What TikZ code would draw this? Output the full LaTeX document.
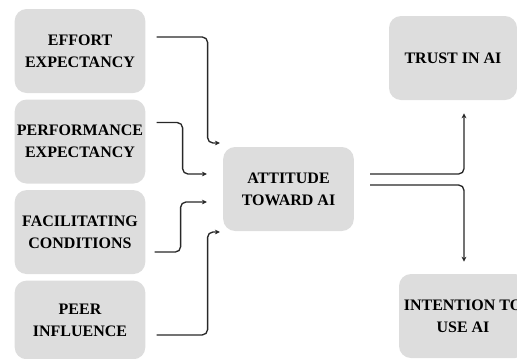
\documentclass[tikz,border=0pt]{standalone}
\usepackage{fontspec}
\setmainfont{Liberation Serif}
\definecolor{BoxGray}{RGB}{221,221,221}
\definecolor{LineDark}{RGB}{40,40,40}
\usetikzlibrary{positioning,arrows.meta,calc}

\begin{document}
\begin{tikzpicture}[x=0.75pt, y=-0.75pt,
      every node/.style={font=\fontsize{12}{16.5}\selectfont\bfseries, align=center},
      box/.style={fill=BoxGray, rounded corners=9pt, minimum width=98pt, minimum height=63pt, inner xsep=1pt, inner ysep=2pt},
      factor/.style={box},
      outcome/.style={box, minimum width=96pt},
      arr/.style={-{Stealth[length=3.8pt, width=3.6pt]}, draw=LineDark, line width=1pt, rounded corners=4pt}
  ]
    \useasboundingbox (0,0) rectangle (517,358);
    \clip (0,0) rectangle (517,358);
    \node[factor] at (80,51) (eff) {EFFORT\\EXPECTANCY};
    \node[factor, below=4.5pt of eff] (perf) {PERFORMANCE\\EXPECTANCY};
    \node[factor, below=4.5pt of perf] (fac) {FACILITATING\\CONDITIONS};
    \node[factor, below=4.5pt of fac, minimum height=59pt] (peer) {PEER\\INFLUENCE};
    \node[box] at (288.5,189) (att) {ATTITUDE\\TOWARD AI};
    \node[outcome] at (453,58) (trust) {\raisebox{-5pt}{TRUST IN AI}};
    \node[outcome] at (463,316) (intent) {INTENTION TO\\USE AI};
    \coordinate (effout) at ($(eff.east)+(11,-14)$);
    \coordinate (perfout) at ($(perf.east)+(11,-19)$);
    \coordinate (facout) at ($(fac.east)+(9,20)$);
    \coordinate (peerout) at ($(peer.east)+(11,15)$);
    \coordinate (effin) at ($(att.west)+(-3,-46)$);
    \coordinate (perfin) at ($(att.west)+(-16,-15)$);
    \coordinate (facin) at ($(att.west)+(-16,13)$);
    \coordinate (peerin) at ($(att.west)+(-3,43)$);
    \coordinate (trustout) at ($(att.east)+(16,-15)$);
    \coordinate (intentout) at ($(att.east)+(16,-4)$);
    \coordinate (trustin) at ($(trust.south)+(11,13)$);
    \coordinate (intentin) at ($(intent.north)+(1,-12)$);
    \draw[arr] (effout) -- ++(51,0) |- (effin);
    \draw[arr] (perfout) -- ++(26,0) |- (perfin);
    \draw[arr] (facout) -- ++(26,0) |- (facin);
    \draw[arr] (peerout) -- ++(51,0) |- (peerin);
    \draw[arr] (trustout) -| (trustin);
    \draw[arr] (intentout) -| (intentin);
  \end{tikzpicture}
\end{document}
